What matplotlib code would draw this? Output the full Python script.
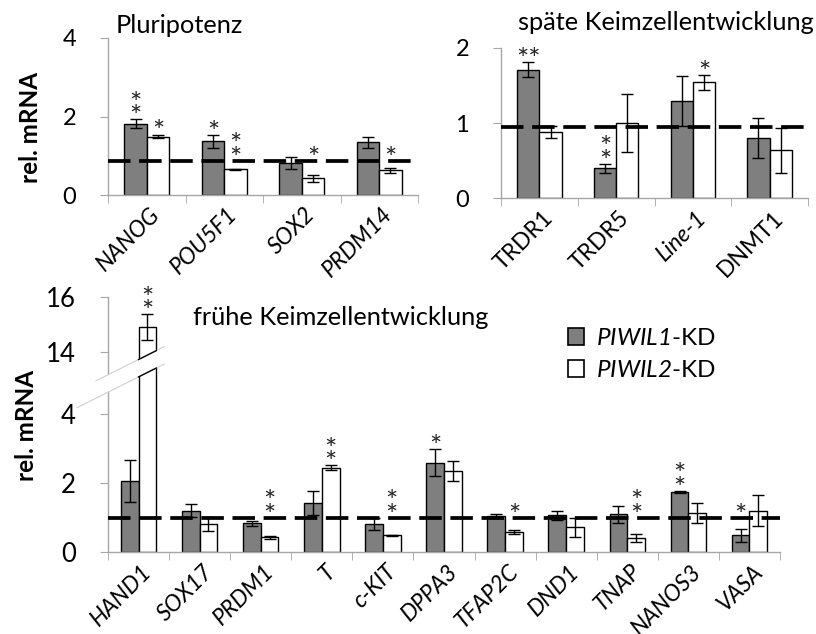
import numpy as np
import matplotlib.pyplot as plt
from matplotlib.patches import Patch, Polygon
from matplotlib.lines import Line2D
from matplotlib.transforms import IdentityTransform, ScaledTranslation

plt.rcParams['font.family'] = ['Lato', 'DejaVu Sans']
plt.rcParams['mathtext.fontset'] = 'custom'
plt.rcParams['mathtext.it'] = 'Lato:italic'
plt.rcParams['mathtext.rm'] = 'Lato:italic'

# --- data ---
pluri_genes = ['NANOG', 'POU5F1', 'SOX2', 'PRDM14']
pluri_kd1 = [1.82, 1.37, 0.81, 1.34]
pluri_kd1_err = [0.11, 0.16, 0.16, 0.15]
pluri_kd2 = [1.49, 0.65, 0.43, 0.63]
pluri_kd2_err = [0.05, 0.01, 0.09, 0.07]
pluri_sig1 = ['*\n*', '*', '', '']
pluri_sig2 = ['*', '*\n*', '*', '*']

late_genes = ['TRDR1', 'TRDR5', 'Line-1', 'DNMT1']
late_kd1 = [1.71, 0.40, 1.29, 0.80]
late_kd1_err = [0.10, 0.06, 0.33, 0.27]
late_kd2 = [0.88, 1.00, 1.54, 0.64]
late_kd2_err = [0.08, 0.39, 0.10, 0.30]
late_sig1 = ['**', '*\n*', '', '']
late_sig2 = ['', '', '*', '']

early_genes = ['HAND1', 'SOX17', 'PRDM1', 'T', 'c-KIT', 'DPPA3', 'TFAP2C',
               'DND1', 'TNAP', 'NANOS3', 'VASA']
early_kd1 = [2.07, 1.21, 0.84, 1.43, 0.81, 2.59, 1.04, 1.07, 1.10, 1.75, 0.49]
early_kd1_err = [0.60, 0.18, 0.08, 0.34, 0.17, 0.39, 0.06, 0.13, 0.25, 0.03, 0.19]
early_kd2 = [14.9, 0.81, 0.43, 2.45, 0.49, 2.36, 0.59, 0.72, 0.41, 1.14, 1.21]
early_kd2_err = [0.47, 0.20, 0.05, 0.07, 0.02, 0.29, 0.07, 0.28, 0.12, 0.29, 0.45]
early_sig1 = ['', '', '', '', '', '*', '', '', '', '*\n*', '*']
early_sig2 = ['*\n*', '', '*\n*', '*\n*', '*\n*', '', '*', '', '*\n*', '', '']

ref_levels = [0.87, 0.95, 1.0]   # dashed control line in each panel

GRAY = '#7f7f7f'
AXC = '#a6a6a6'
W = 0.29

fig = plt.figure(figsize=(8.16, 6.34), dpi=100)
px = lambda x, y: (x / 816, 1 - y / 634)


def add_ax(x0, y0, x1, y1):
    return fig.add_axes([x0 / 816, 1 - y1 / 634, (x1 - x0) / 816, (y1 - y0) / 634])


def panel(ax, genes, v1, e1, v2, e2, s1, s2, ref, ylim, yticks, italic, ysize):
    n = len(genes)
    x = np.arange(n)
    ax.set_xlim(-0.5, n - 0.5)
    ax.set_ylim(*ylim)
    ax.set_yticks(yticks)
    ekw = dict(ecolor='black', elinewidth=1, capsize=4, capthick=1, zorder=4)
    ax.bar(x - W / 2, v1, W, yerr=e1, color=GRAY, edgecolor='black', lw=1,
           error_kw=ekw, zorder=2)
    ax.bar(x + W / 2, v2, W, yerr=e2, color='white', edgecolor='black', lw=1,
           error_kw=ekw, zorder=2)
    ax.axhline(ref, color='black', lw=2.7, dashes=(6, 2.3), zorder=3)

    # significance stars: just above the error bar, or above the dashed
    # line when they would otherwise sit on it
    yref = ax.transData.transform((0, ref))[1]
    for vals, errs, sigs, off in [(v1, e1, s1, -W / 2), (v2, e2, s2, W / 2)]:
        for i, s in enumerate(sigs):
            if not s:
                continue
            nl = s.count('\n') + 1
            base = vals[i] + errs[i]
            ytop = ax.transData.transform((0, base))[1]
            span_top = ytop + 17 + (nl - 1) * 11.5
            if ytop < yref and span_top > yref - 3:
                base = ref
            ax.annotate(s, (i + off, base), xytext=(0, -5),
                        textcoords='offset points', ha='center', va='baseline',
                        fontsize=21, color='#222222', linespacing=0.41,
                        multialignment='center', zorder=5)

    for sp in ['top', 'right']:
        ax.spines[sp].set_visible(False)
    for sp in ['left', 'bottom']:
        ax.spines[sp].set_color(AXC)
        ax.spines[sp].set_linewidth(1)
    ax.set_xticks(x)
    ax.set_xticklabels([])
    ax.tick_params(axis='x', which='major', length=0)
    ax.set_xticks(np.arange(-0.5, n), minor=True)
    ax.tick_params(axis='x', which='minor', length=6, color=AXC)
    ax.tick_params(axis='y', length=6, color=AXC, labelsize=ysize, pad=17)

    tr = ax.get_xaxis_transform() + ScaledTranslation(10 / 100, -16 / 100, fig.dpi_scale_trans)
    for i, g in enumerate(genes):
        ax.text(i, 0, g, transform=tr, rotation=45, rotation_mode='anchor',
                ha='right', va='center', fontsize=16.5,
                fontstyle='italic' if italic(g) else 'normal')


# top left: Pluripotenz
ax1 = add_ax(108, 38, 418, 195)
panel(ax1, pluri_genes, pluri_kd1, pluri_kd1_err, pluri_kd2, pluri_kd2_err,
      pluri_sig1, pluri_sig2, ref_levels[0], (0, 4), [0, 2, 4], lambda g: True, 17)

# top right: späte Keimzellentwicklung
ax2 = add_ax(501, 47.7, 808, 198.3)
panel(ax2, late_genes, late_kd1, late_kd1_err, late_kd2, late_kd2_err,
      late_sig1, late_sig2, ref_levels[1], (0, 2), [0, 1, 2],
      lambda g: g == 'Line-1', 17)

# bottom: frühe Keimzellentwicklung with broken axis
LO, HI, GAP, K = 4.6, 13.2, 0.58, 0.788


def fwd(y):
    y = np.asarray(y, float)
    return np.where(y <= LO, y, np.where(y >= HI, LO + GAP + (y - HI) * K,
                                         LO + (y - LO) * GAP / (HI - LO)))


def inv(z):
    z = np.asarray(z, float)
    return np.where(z <= LO, z, np.where(z >= LO + GAP, HI + (z - LO - GAP) / K,
                                         LO + (z - LO) * (HI - LO) / GAP))


ax3 = add_ax(108, 297.3, 780, 552.3)
ax3.set_yscale('function', functions=(fwd, inv))
panel(ax3, early_genes, early_kd1, early_kd1_err, early_kd2, early_kd2_err,
      early_sig1, early_sig2, ref_levels[2], (0, 16), [0, 2, 4, 14, 16],
      lambda g: True, 18.5)
ax3.yaxis.set_minor_locator(plt.NullLocator())

# axis break band (white slanted strip over the spine and the tall bar)
xs, ys = ax3.transData.transform((-0.5, (LO + HI) / 2))
bar_l = ax3.transData.transform((0, 0))[0]
bar_r = ax3.transData.transform((W, 0))[0]
hh, sl = 8.7, 0.5
edge = lambda x, s: ys + s * hh + sl * (x - xs)
xa, xb, x1 = xs - 12, xs - 31, bar_r + 8
band = Polygon([(xb, edge(xb, -1)), (x1, edge(x1, -1)), (x1, edge(x1, 1)), (xa, edge(xa, 1))],
               closed=True, facecolor='white', edgecolor='none',
               transform=IdentityTransform(), zorder=10)
fig.add_artist(band)
for s, xl in ((-1, xb), (1, xa)):
    fig.add_artist(Line2D([xl, x1], [edge(xl, s), edge(x1, s)], color='#d0d0d0', lw=0.8,
                          transform=IdentityTransform(), zorder=11))
    fig.add_artist(Line2D([bar_l, bar_r], [edge(bar_l, s), edge(bar_r, s)], color='black', lw=1,
                          transform=IdentityTransform(), zorder=12))

# titles and axis labels
fig.text(*px(116, 33), 'Pluripotenz', fontsize=18.3, ha='left', va='baseline')
fig.text(*px(518, 30), 'späte Keimzellentwicklung', fontsize=18.3, ha='left', va='baseline')
fig.text(*px(193, 325), 'frühe Keimzellentwicklung', fontsize=18.3, ha='left', va='baseline')
fig.text(*px(30, 127), 'rel. mRNA', fontsize=17.5, fontweight='bold', rotation=90,
         ha='center', va='center')
fig.text(*px(27, 425), 'rel. mRNA', fontsize=17.5, fontweight='bold', rotation=90,
         ha='center', va='center')

handles = [Patch(facecolor=GRAY, edgecolor='black', lw=1.2),
           Patch(facecolor='white', edgecolor='black', lw=1.2)]
labels = [r'$PIWIL1$-KD', r'$PIWIL2$-KD']
fig.legend(handles, labels, loc='upper left', bbox_to_anchor=px(568, 328),
           frameon=False, borderpad=0, borderaxespad=0, handlelength=0.65,
           handleheight=0.7, handletextpad=0.5, labelspacing=0.45, fontsize=17.5)

fig.savefig('out.png', dpi=100)
